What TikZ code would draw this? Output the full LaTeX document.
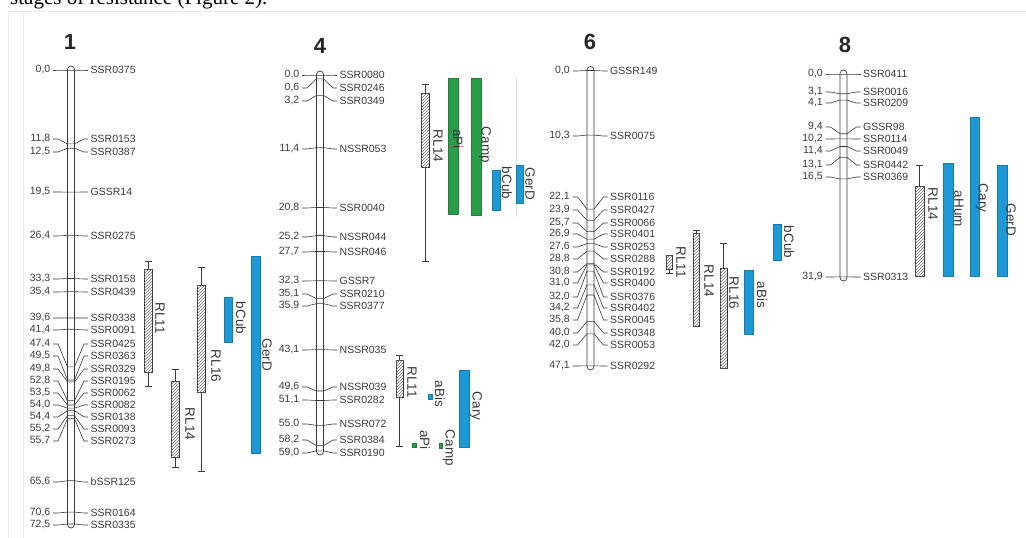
\documentclass[tikz,border=0pt]{standalone}
\usepackage{fontspec}
\setmainfont{Liberation Serif}
\setsansfont{Liberation Sans}
\usetikzlibrary{patterns}

\definecolor{inkgray}{HTML}{3A3A3A}
\definecolor{qtlblue}{HTML}{1D9AD6}
\definecolor{qtlgreen}{HTML}{2A9D48}

\tikzset{
  mk/.style={font=\sffamily\fontsize{10.5}{12}\selectfont, text=inkgray, inner sep=0pt},
  posnum/.style={mk, anchor=east},
  mkname/.style={mk, anchor=west},
  tickline/.style={draw=inkgray, line width=0.6pt},
  chrbar/.style={draw=inkgray, line width=0.7pt, fill=white, rounded corners=3.5pt},
  qlab/.style={font=\sffamily\fontsize{13.5}{14}\selectfont, text=inkgray, rotate=-90, inner sep=0pt},
  hatchbox/.style={draw=inkgray, line width=0.6pt, fill=white,
    postaction={pattern=north east lines, pattern color=black!55}},
  whisk/.style={draw=inkgray, line width=0.6pt},
  bluebar/.style={fill=qtlblue, draw=qtlblue!80!black, line width=0.4pt},
  greenbar/.style={fill=qtlgreen, draw=qtlgreen!80!black, line width=0.4pt},
  ctitle/.style={font=\sffamily\bfseries\fontsize{22}{24}\selectfont, text=black!85, inner sep=0pt},
  framefaint/.style={draw=black!9, line width=0.6pt},
}

% linkage group: #1 centre x, #2 top (0 cM), #3 bottom, #4 px per cM, #5 markers cM/labelY/name
\newcommand\drawlinkage[5]{%
  \draw[chrbar] (#1-3.5,#2-4) rectangle (#1+3.5,#3+4);
  \foreach \cm/\ly/\nm in {#5}{%
    \pgfmathsetmacro\cy{#2+\cm*#4}%
    \draw[tickline] (#1-18,\ly) -- (#1-13,\ly) -- (#1-3.5,\cy) -- (#1+3.5,\cy)
      -- (#1+13,\ly) -- (#1+17,\ly);
    \node[posnum] (p-\nm) at (#1-20.5,\ly)
      {\pgfmathprintnumber[fixed,precision=1,fixed zerofill,use comma,assume math mode=true]{\cm}};
    \node[mkname] (m-\nm) at (#1+19.5,\ly) {\nm};
  }%
}

% hatched QTL: #1 left, #2 right, #3 whisker top, #4 box top, #5 box bottom, #6 whisker bottom
\newcommand\rlqtl[6]{%
  \pgfmathsetmacro\wx{(#1+#2)/2}%
  \draw[whisk] (\wx-3.5,#3) -- (\wx+3.5,#3) (\wx,#3) -- (\wx,#6) (\wx-3.5,#6) -- (\wx+3.5,#6);
  \draw[hatchbox] (#1,#4) rectangle (#2,#5);
}

\begin{document}
\begin{tikzpicture}[x=1pt,y=-1pt]
\useasboundingbox (0,0) rectangle (1026,538);
\fill[white] (0,0) rectangle (1026,538);

% running text above the figure
\node[font=\fontsize{21}{24}\selectfont, anchor=base west, inner sep=0pt] (caption) at (10,5)
  {stages of resistance (Figure 2).};

% faint figure frame
\draw[framefaint] (8,11) -- (1026,11);
\draw[framefaint] (8,11) -- (8,538);
\draw[framefaint] (23,12) -- (23,538);

% ---------------- group 1 ----------------
\node[ctitle] (t1) at (70,42) {1};
\drawlinkage{71}{70}{524}{6.262}{%
  0.0/70/SSR0375, 11.8/139/SSR0153, 12.5/152/SSR0387, 19.5/192/GSSR14,
  26.4/236/SSR0275, 33.3/279/SSR0158, 35.4/292/SSR0439, 39.6/318/SSR0338,
  41.4/330/SSR0091, 47.4/344/SSR0425, 49.5/356/SSR0363, 49.8/369/SSR0329,
  52.8/381/SSR0195, 53.5/393/SSR0062, 54.0/405/SSR0082, 54.4/417/SSR0138,
  55.2/429/SSR0093, 55.7/441/SSR0273, 65.6/482/bSSR125, 70.6/513/SSR0164,
  72.5/525/SSR0335}
\rlqtl{144}{152}{261}{269}{372}{386}
\node[qlab] (q1a) at (160,318) {RL11};
\rlqtl{197}{205}{267}{285}{392}{471}
\node[qlab] (q1b) at (216,366) {RL16};
\rlqtl{171}{179}{369}{381}{457}{467}
\node[qlab] (q1c) at (190,424) {RL14};
\draw[bluebar] (224,297) rectangle (232,342);
\node[qlab] (q1d) at (241,318) {bCub};
\draw[bluebar] (251,256) rectangle (260,453);
\node[qlab] (q1e) at (267,355) {GerD};

% ---------------- group 4 ----------------
\node[ctitle] (t4) at (320,46) {4};
\drawlinkage{320}{75}{451}{6.37}{%
  0.0/75/SSR0080, 0.6/88/SSR0246, 3.2/101/SSR0349, 11.4/149/NSSR053,
  20.8/208/SSR0040, 25.2/237/NSSR044, 27.7/252/NSSR046, 32.3/281/GSSR7,
  35.1/294/SSR0210, 35.9/306/SSR0377, 43.1/350/NSSR035, 49.6/387/NSSR039,
  51.1/400/SSR0282, 55.0/424/NSSR072, 58.2/440/SSR0384, 59.0/453/SSR0190}
\rlqtl{421}{429}{84}{93}{167}{261}
\node[qlab] (q4a) at (438,146) {RL14};
\draw[greenbar] (448,78) rectangle (458,214);
\node[qlab] (q4b) at (458,139) {aPi};
\draw[greenbar] (471,78) rectangle (481,215);
\node[qlab] (q4c) at (485,145) {Camp};
\draw[bluebar] (492,170) rectangle (500,210);
\node[qlab] (q4d) at (507,183) {bCub};
\draw[black!12, line width=0.6pt] (516,77) -- (516,217);
\draw[bluebar] (516,165) rectangle (523,203);
\node[qlab] (q4e) at (530,184) {GerD};
\rlqtl{396}{403}{355}{360}{397}{446}
\node[qlab] (q4f) at (412,382) {RL11};
\draw[bluebar] (428.5,394) rectangle (432.5,399);
\node[qlab] (q4g) at (440,394) {aBis};
\draw[bluebar] (459,370) rectangle (469,447);
\node[qlab] (q4h) at (476,406) {Cary};
\draw[greenbar] (412.5,443) rectangle (416,447);
\node[qlab] (q4i) at (425,440) {aPi};
\draw[greenbar] (439.5,443) rectangle (442.5,448);
\node[qlab] (q4j) at (449,448) {Camp};

% ---------------- group 6 ----------------
\node[ctitle] (t6) at (590,42) {6};
\drawlinkage{590.5}{70.5}{366}{6.27}{%
  0.0/71/GSSR149, 10.3/136/SSR0075, 22.1/197/SSR0116, 23.9/210/SSR0427,
  25.7/223/SSR0066, 26.9/234/SSR0401, 27.6/247/SSR0253, 28.8/259/SSR0288,
  30.8/272/SSR0192, 31.0/283/SSR0400, 32.0/297/SSR0376, 34.2/308/SSR0402,
  35.8/320/SSR0045, 40.0/333/SSR0348, 42.0/345/SSR0053, 47.1/366/SSR0292}
\rlqtl{666}{672}{255}{255}{269}{273}
\node[qlab] (q6a) at (681,262) {RL11};
\rlqtl{693}{699.5}{230}{233}{326}{326}
\node[qlab] (q6b) at (709,281) {RL14};
\rlqtl{720}{727}{243}{268}{368}{368}
\node[qlab] (q6c) at (734,293) {RL16};
\draw[bluebar] (744,270) rectangle (753,334);
\node[qlab] (q6d) at (762,295) {aBis};
\draw[bluebar] (773,224) rectangle (781,260);
\node[qlab] (q6e) at (789,242) {bCub};

% ---------------- group 8 ----------------
\node[ctitle] (t8) at (845,45) {8};
\drawlinkage{843.5}{74}{277}{6.36}{%
  0.0/74/SSR0411, 3.1/92/SSR0016, 4.1/103/SSR0209, 9.4/127/GSSR98,
  10.2/139/SSR0114, 11.4/151/SSR0049, 13.1/165/SSR0442, 16.5/177/SSR0369,
  31.9/277/SSR0313}
\rlqtl{915}{924}{165}{186}{276}{276}
\node[qlab] (q8a) at (933,204) {RL14};
\draw[bluebar] (943,163) rectangle (953,276);
\node[qlab] (q8b) at (959,209) {aHum};
\draw[bluebar] (970,117) rectangle (979,276);
\node[qlab] (q8c) at (982,198) {Cary};
\draw[bluebar] (997,165) rectangle (1007,276);
\node[qlab] (q8d) at (1011,220) {GerD};
\end{tikzpicture}
\end{document}
